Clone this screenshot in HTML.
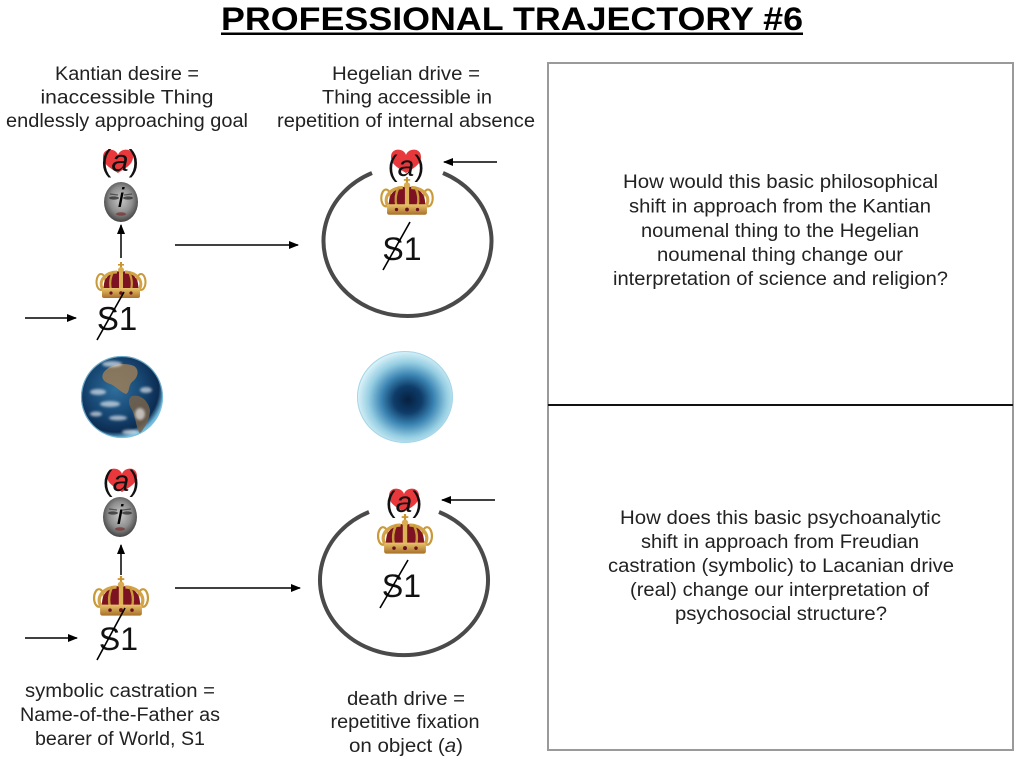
<!DOCTYPE html>
<html>
<head>
<meta charset="utf-8">
<style>
  html,body{margin:0;padding:0;background:#fff;}
  svg{display:block;}
  text{font-family:"Liberation Sans", sans-serif;}
</style>
</head>
<body>
<svg width="1024" height="765" viewBox="0 0 1024 765" xmlns="http://www.w3.org/2000/svg">
  <defs>
    <marker id="ah" markerWidth="10" markerHeight="10" refX="9" refY="5" orient="auto" markerUnits="userSpaceOnUse">
      <path d="M0,1 L10,5 L0,9 z" fill="#000"/>
    </marker>
    <path id="heart" d="M0,-5 C-2,-12 -15,-13 -15,-3 C-15,5 -6,9 0,13 C6,9 15,5 15,-3 C15,-13 2,-12 0,-5 Z" fill="#e8383c"/>
    <radialGradient id="faceG" cx="50%" cy="45%" r="55%">
      <stop offset="0" stop-color="#c8c8c8"/>
      <stop offset="0.6" stop-color="#8e8e8e"/>
      <stop offset="1" stop-color="#444"/>
    </radialGradient>
    <g id="face">
      <ellipse cx="0" cy="0" rx="17" ry="20" fill="url(#faceG)"/>
      <ellipse cx="-7" cy="-4" rx="5" ry="1.6" fill="#2a2a2a" opacity="0.75"/>
      <ellipse cx="7" cy="-4" rx="5" ry="1.6" fill="#2a2a2a" opacity="0.75"/>
      <path d="M-11,-8 L-3,-7 M11,-8 L3,-7" stroke="#333" stroke-width="1.2" opacity="0.7"/>
      <ellipse cx="0" cy="12" rx="5" ry="1.8" fill="#7a3c3c" opacity="0.85"/>
    </g>
    <linearGradient id="goldG" x1="0" y1="0" x2="0" y2="1">
      <stop offset="0" stop-color="#e9c46a"/>
      <stop offset="1" stop-color="#a8702a"/>
    </linearGradient>
    <g id="crown">
      <rect x="-1" y="-20" width="2" height="7" fill="#c8942f"/>
      <rect x="-3" y="-18" width="6" height="1.6" fill="#c8942f"/>
      <ellipse cx="-20" cy="0" rx="4.5" ry="8" fill="none" stroke="#c99a3a" stroke-width="2"/>
      <ellipse cx="20" cy="0" rx="4.5" ry="8" fill="none" stroke="#c99a3a" stroke-width="2"/>
      <path d="M-17,8 C-19,-6 -8,-11 0,-11 C8,-11 19,-6 17,8 Z" fill="#7d1222"/>
      <path d="M-18,8 C-24,-2 -14,-10 -4,-10" fill="none" stroke="#d3a347" stroke-width="3"/>
      <path d="M18,8 C24,-2 14,-10 4,-10" fill="none" stroke="#d3a347" stroke-width="3"/>
      <path d="M-8,-10 C-12,-2 -11,4 -10,8 M8,-10 C12,-2 11,4 10,8" fill="none" stroke="#c99a3a" stroke-width="2.2"/>
      <path d="M0,-12 L0,8" stroke="#ddb256" stroke-width="4"/>
      <circle cx="0" cy="-12" r="3" fill="#d9ad4f"/>
      <rect x="-19" y="6" width="38" height="10" rx="2" fill="url(#goldG)"/>
      <circle cx="-10" cy="11" r="1.6" fill="#6a1020"/>
      <circle cx="0" cy="11" r="1.8" fill="#6a1020"/>
      <circle cx="10" cy="11" r="1.6" fill="#6a1020"/>
    </g>
    <radialGradient id="earthG" cx="42%" cy="40%" r="60%">
      <stop offset="0" stop-color="#2f6e9c"/>
      <stop offset="0.55" stop-color="#174773"/>
      <stop offset="0.88" stop-color="#0c2c52"/>
      <stop offset="1" stop-color="#6fb8da"/>
    </radialGradient>
    <radialGradient id="holeG" cx="53%" cy="53%" r="52%">
      <stop offset="0" stop-color="#06203f"/>
      <stop offset="0.28" stop-color="#0e3c69"/>
      <stop offset="0.52" stop-color="#3a83b2"/>
      <stop offset="0.78" stop-color="#94cde2"/>
      <stop offset="1" stop-color="#d6f0f7"/>
    </radialGradient>
    <filter id="blur1"><feGaussianBlur stdDeviation="1.2"/></filter>
    <clipPath id="earthClip"><circle cx="122" cy="397" r="41"/></clipPath>
  </defs>

  <!-- Title -->
  <text x="512" y="30" text-anchor="middle" font-size="32" font-weight="bold" fill="#000" textLength="582" lengthAdjust="spacingAndGlyphs">PROFESSIONAL TRAJECTORY #6</text>
  <rect x="221" y="32.5" width="582" height="2.5" fill="#000"/>

  <!-- Top labels -->
  <g font-size="19" fill="#222" text-anchor="middle">
    <text x="127" y="80" textLength="144" lengthAdjust="spacingAndGlyphs">Kantian desire =</text>
    <text x="127" y="103.5" textLength="173" lengthAdjust="spacingAndGlyphs">inaccessible Thing</text>
    <text x="127" y="127" textLength="242" lengthAdjust="spacingAndGlyphs">endlessly approaching goal</text>
    <text x="406" y="80" textLength="148" lengthAdjust="spacingAndGlyphs">Hegelian drive =</text>
    <text x="407" y="103.5" textLength="170" lengthAdjust="spacingAndGlyphs">Thing accessible in</text>
    <text x="406" y="127" textLength="258" lengthAdjust="spacingAndGlyphs">repetition of internal absence</text>
  </g>

  <!-- Bottom labels -->
  <g font-size="19" fill="#222" text-anchor="middle">
    <text x="120" y="697" textLength="190" lengthAdjust="spacingAndGlyphs">symbolic castration =</text>
    <text x="120" y="721" textLength="200" lengthAdjust="spacingAndGlyphs">Name-of-the-Father as</text>
    <text x="120" y="745" textLength="170" lengthAdjust="spacingAndGlyphs">bearer of World, S1</text>
    <text x="406" y="705" textLength="118" lengthAdjust="spacingAndGlyphs">death drive =</text>
    <text x="405" y="728" textLength="149" lengthAdjust="spacingAndGlyphs">repetitive fixation</text>
    <text x="406" y="752" textLength="114" lengthAdjust="spacingAndGlyphs">on object (<tspan font-style="italic">a</tspan>)</text>
  </g>

  <!-- Right box -->
  <rect x="548" y="63" width="465" height="687" fill="none" stroke="#9a9a9a" stroke-width="2"/>
  <line x1="548" y1="405" x2="1013" y2="405" stroke="#111" stroke-width="2"/>
  <g font-size="19" fill="#222" text-anchor="middle">
    <text x="780.5" y="188" textLength="315" lengthAdjust="spacingAndGlyphs">How would this basic philosophical</text>
    <text x="780" y="212.5" textLength="302" lengthAdjust="spacingAndGlyphs">shift in approach from the Kantian</text>
    <text x="780" y="237" textLength="278" lengthAdjust="spacingAndGlyphs">noumenal thing to the Hegelian</text>
    <text x="780" y="261" textLength="246" lengthAdjust="spacingAndGlyphs">noumenal thing change our</text>
    <text x="780.5" y="285" textLength="335" lengthAdjust="spacingAndGlyphs">interpretation of science and religion?</text>

    <text x="780.5" y="524" textLength="321" lengthAdjust="spacingAndGlyphs">How does this basic psychoanalytic</text>
    <text x="780" y="548" textLength="278" lengthAdjust="spacingAndGlyphs">shift in approach from Freudian</text>
    <text x="781" y="572" textLength="346" lengthAdjust="spacingAndGlyphs">castration (symbolic) to Lacanian drive</text>
    <text x="779.5" y="596" textLength="299" lengthAdjust="spacingAndGlyphs">(real) change our interpretation of</text>
    <text x="781" y="620" textLength="212" lengthAdjust="spacingAndGlyphs">psychosocial structure?</text>
  </g>

  <!-- ===== TOP LEFT COLUMN ===== -->
  <use href="#heart" x="118" y="160"/>
  <text x="120" y="171" text-anchor="middle" font-size="31" fill="#111">(<tspan font-style="italic">a</tspan>)</text>
  <use href="#face" x="121" y="202"/>
  <text x="121" y="207" text-anchor="middle" font-size="28" font-style="italic" fill="#000">i</text>
  <line x1="121" y1="258" x2="121" y2="225" stroke="#000" stroke-width="1.5" marker-end="url(#ah)"/>
  <use href="#crown" transform="translate(121,282)"/>
  <text x="117" y="330" text-anchor="middle" font-size="33" fill="#111">S1</text>
  <line x1="97" y1="340" x2="124" y2="292" stroke="#000" stroke-width="1.6"/>
  <line x1="25" y1="318" x2="76" y2="318" stroke="#000" stroke-width="1.5" marker-end="url(#ah)"/>

  <line x1="175" y1="245" x2="298" y2="245" stroke="#000" stroke-width="1.5" marker-end="url(#ah)"/>

  <!-- ===== TOP RIGHT (circle) ===== -->
  <path d="M372,173 A84,75 0 1 0 443,173" fill="none" stroke="#4a4a4a" stroke-width="4"/>
  <use href="#heart" x="406" y="160"/>
  <text x="406" y="176" text-anchor="middle" font-size="30" fill="#111">(<tspan font-style="italic">a</tspan>)</text>
  <line x1="497" y1="162" x2="444" y2="162" stroke="#000" stroke-width="1.5" marker-end="url(#ah)"/>
  <use href="#crown" transform="translate(407,198) scale(1.05)"/>
  <text x="402" y="260" text-anchor="middle" font-size="32" fill="#111">S1</text>
  <line x1="383" y1="270" x2="410" y2="222" stroke="#000" stroke-width="1.6"/>

  <!-- ===== Earth ===== -->
  <circle cx="122" cy="397" r="41" fill="url(#earthG)"/>
  <g clip-path="url(#earthClip)">
    <path d="M104,372 C110,364 124,362 134,366 C140,370 138,378 132,382 C128,386 130,392 126,394 C120,392 116,386 110,384 C104,382 100,378 104,372 Z" fill="#9a7c58" opacity="0.85"/>
    <path d="M132,396 C140,394 148,400 150,410 C150,420 144,428 140,434 C136,428 136,418 132,410 C128,404 128,398 132,396 Z" fill="#75624a" opacity="0.85"/>
    <g fill="#ffffff" filter="url(#blur1)" opacity="0.6">
      <ellipse cx="98" cy="392" rx="8" ry="3"/>
      <ellipse cx="110" cy="404" rx="10" ry="3"/>
      <ellipse cx="96" cy="414" rx="6" ry="2.5"/>
      <ellipse cx="118" cy="418" rx="9" ry="2.5"/>
      <ellipse cx="146" cy="390" rx="6" ry="3"/>
      <ellipse cx="112" cy="364" rx="10" ry="3"/>
      <ellipse cx="140" cy="414" rx="5" ry="6"/>
      <ellipse cx="130" cy="432" rx="8" ry="2.5"/>
    </g>
  </g>
  <circle cx="122" cy="397" r="40.5" fill="none" stroke="#7ec3e0" stroke-width="1.2" opacity="0.8"/>

  <!-- ===== Hole ===== -->
  <ellipse cx="405" cy="397" rx="48" ry="46" fill="url(#holeG)"/>
  <ellipse cx="405" cy="397" rx="47.5" ry="45.5" fill="none" stroke="#a6d6e8" stroke-width="1"/>

  <!-- ===== BOTTOM LEFT COLUMN ===== -->
  <use href="#heart" x="122" y="479"/>
  <text x="121" y="491" text-anchor="middle" font-size="30" fill="#111">(<tspan font-style="italic">a</tspan>)</text>
  <use href="#face" x="120" y="517"/>
  <text x="120" y="524" text-anchor="middle" font-size="28" font-style="italic" fill="#000">i</text>
  <line x1="121" y1="575" x2="121" y2="545" stroke="#000" stroke-width="1.5" marker-end="url(#ah)"/>
  <use href="#crown" transform="translate(121,598) scale(1.1)"/>
  <text x="118.5" y="650" text-anchor="middle" font-size="32" fill="#111">S1</text>
  <line x1="97" y1="660" x2="125" y2="608" stroke="#000" stroke-width="1.6"/>
  <line x1="25" y1="638" x2="77" y2="638" stroke="#000" stroke-width="1.5" marker-end="url(#ah)"/>

  <line x1="175" y1="588" x2="300" y2="588" stroke="#000" stroke-width="1.5" marker-end="url(#ah)"/>

  <!-- ===== BOTTOM RIGHT (circle) ===== -->
  <path d="M369,512 A84,75 0 1 0 439,512" fill="none" stroke="#4a4a4a" stroke-width="4"/>
  <use href="#heart" x="404" y="499"/>
  <text x="404" y="512" text-anchor="middle" font-size="30" fill="#111">(<tspan font-style="italic">a</tspan>)</text>
  <line x1="495" y1="500" x2="442" y2="500" stroke="#000" stroke-width="1.5" marker-end="url(#ah)"/>
  <use href="#crown" transform="translate(405,536) scale(1.1)"/>
  <text x="401.5" y="597" text-anchor="middle" font-size="32" fill="#111">S1</text>
  <line x1="380" y1="608" x2="408" y2="560" stroke="#000" stroke-width="1.6"/>
</svg>
</body>
</html>
